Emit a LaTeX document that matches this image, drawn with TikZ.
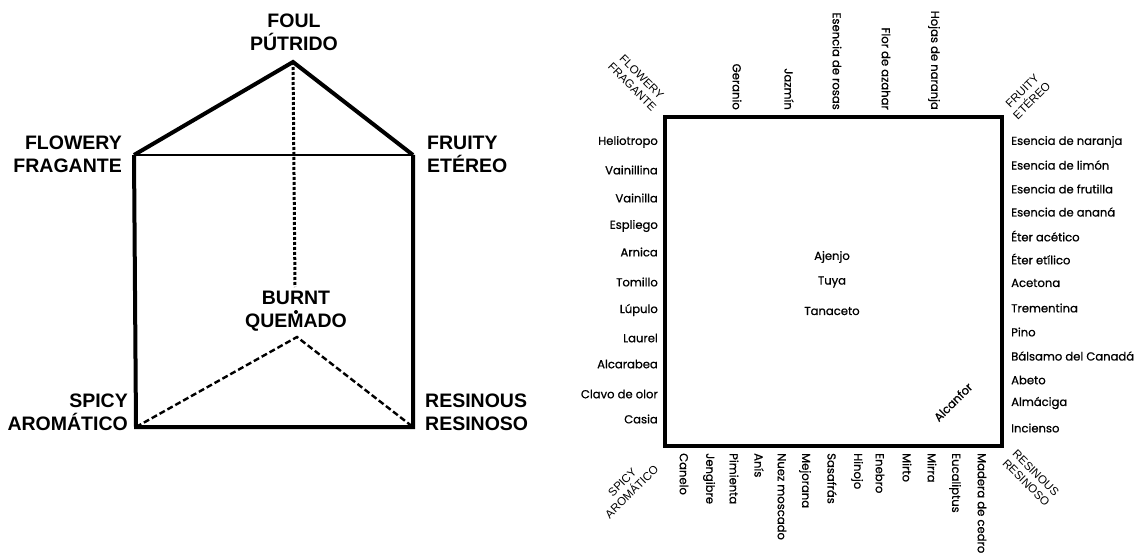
\documentclass[tikz,border=0pt]{standalone}
\usepackage{fontspec}
\setmainfont{Liberation Sans}
\newfontfamily\smellfont{Poppins}[FakeBold=0.8]
\usetikzlibrary{positioning}

\begin{document}
\begin{tikzpicture}[x=1pt, y=-1pt,
  edge/.style={line width=4pt, line join=miter},
  rim/.style={line width=2.6pt},
  dotline/.style={line width=3pt, dash pattern=on 3pt off 2pt},
  dashline/.style={line width=2.4pt, dash pattern=on 6pt off 3pt},
  big/.style={font=\bfseries\fontsize{19.5}{23}\selectfont, inner sep=0pt},
  corner/.style={font=\fontsize{11.5}{13.5}\selectfont, align=center, inner sep=0pt},
  smell/.style={font=\smellfont\fontsize{11.6}{13}\selectfont, inner sep=0pt}]
\useasboundingbox (0,0) rectangle (1137,556);

% prism of odours
\coordinate (foul) at (293,62);
\coordinate (flow) at (134,155);
\coordinate (frui) at (413,155);
\coordinate (spic) at (136,427);
\coordinate (resi) at (413,427);
\coordinate (burnA) at (295,287);
\coordinate (burnB) at (297,337);
\draw[edge] (flow) -- (foul) -- (frui);
\draw[rim] (flow) -- (frui);
\draw[edge] (flow) -- (spic) -- (resi) -- (frui);
\draw[dotline] (foul) -- (burnA);
\draw[dashline] (spic) -- (burnB) -- (resi);
\fill (296,312) circle (2pt);

\node[big, align=center] (tFoul) at (294,32) {FOUL\\PÚTRIDO};
\node[big, align=right, anchor=east] (tFlow) at (122,154) {FLOWERY\\FRAGANTE};
\node[big, align=left, anchor=west] (tFrui) at (427,154) {FRUITY\\ETÉREO};
\node[big, align=center] (tBurn) at (296,311) {BURNT\\QUEMADO};
\node[big, align=right, anchor=east] (tSpic) at (128,412) {SPICY\\AROMÁTICO};
\node[big, align=left, anchor=west] (tResi) at (425,412) {RESINOUS\\RESINOSO};

% square of substances
\coordinate (sqA) at (665,117);
\coordinate (sqB) at (1002,446);
\draw[edge] (sqA) rectangle (sqB);

\node[corner, rotate=-45] (cFlow) at (637,82) {FLOWERY\\FRAGANTE};
\node[corner, rotate=45] (cFrui) at (1027,96) {FRUITY\\ETÉREO};
\node[corner, rotate=45] (cSpic) at (627,487) {SPICY\\AROMÁTICO};
\node[corner, rotate=-45] (cResi) at (1031,478) {RESINOUS\\RESINOSO};

\foreach \x/\t [count=\i] in {737/Geranio, 789/Jazmín, 837/Esencia de rosas,
    886/Flor de azahar, 934/Hojas de naranja}
  \node[smell, rotate=-90, anchor=east] (top\i) at (\x,110) {\t};

\foreach \y/\t [count=\i] in {142/Heliotropo, 170/Vainillina, 198/Vainilla,
    226/Espliego, 252/Arnica, 282/Tomillo, 310/Lúpulo, 338/Laurel,
    364/Alcarabea, 394/Clavo de olor, 419/Casia}
  \node[smell, anchor=east] (lft\i) at (658,\y) {\t};

\foreach \y/\t [count=\i] in {142/Esencia de naranja, 165/Esencia de limón,
    189/Esencia de frutilla, 212/Esencia de ananá, 236/Éter acético,
    259/Éter etílico, 283/Acetona, 308/Trementina, 332/Pino,
    356/Bálsamo del Canadá, 380/Abeto, 403/Almáciga, 428/Incienso}
  \node[smell, anchor=west] (rgt\i) at (1011,\y) {\t};

\foreach \x/\t [count=\i] in {684/Canelo, 709/Jengibre, 734/Pimienta,
    759/Anís, 782/Nuez moscado, 805/Mejorana, 832/Sasafrás, 857/Hinojo,
    880/Enebro, 907/Mirto, 932/Mirra, 955/Eucaliptus, 982/Madera de cedro}
  \node[smell, rotate=-90, anchor=west] (bot\i) at (\x,453) {\t};

\node[smell] (mid1) at (832,257) {Ajenjo};
\node[smell] (mid2) at (832,282) {Tuya};
\node[smell] (mid3) at (832,311) {Tanaceto};
\node[smell, rotate=45] (alc) at (953,402) {Alcanfor};
\end{tikzpicture}
\end{document}
